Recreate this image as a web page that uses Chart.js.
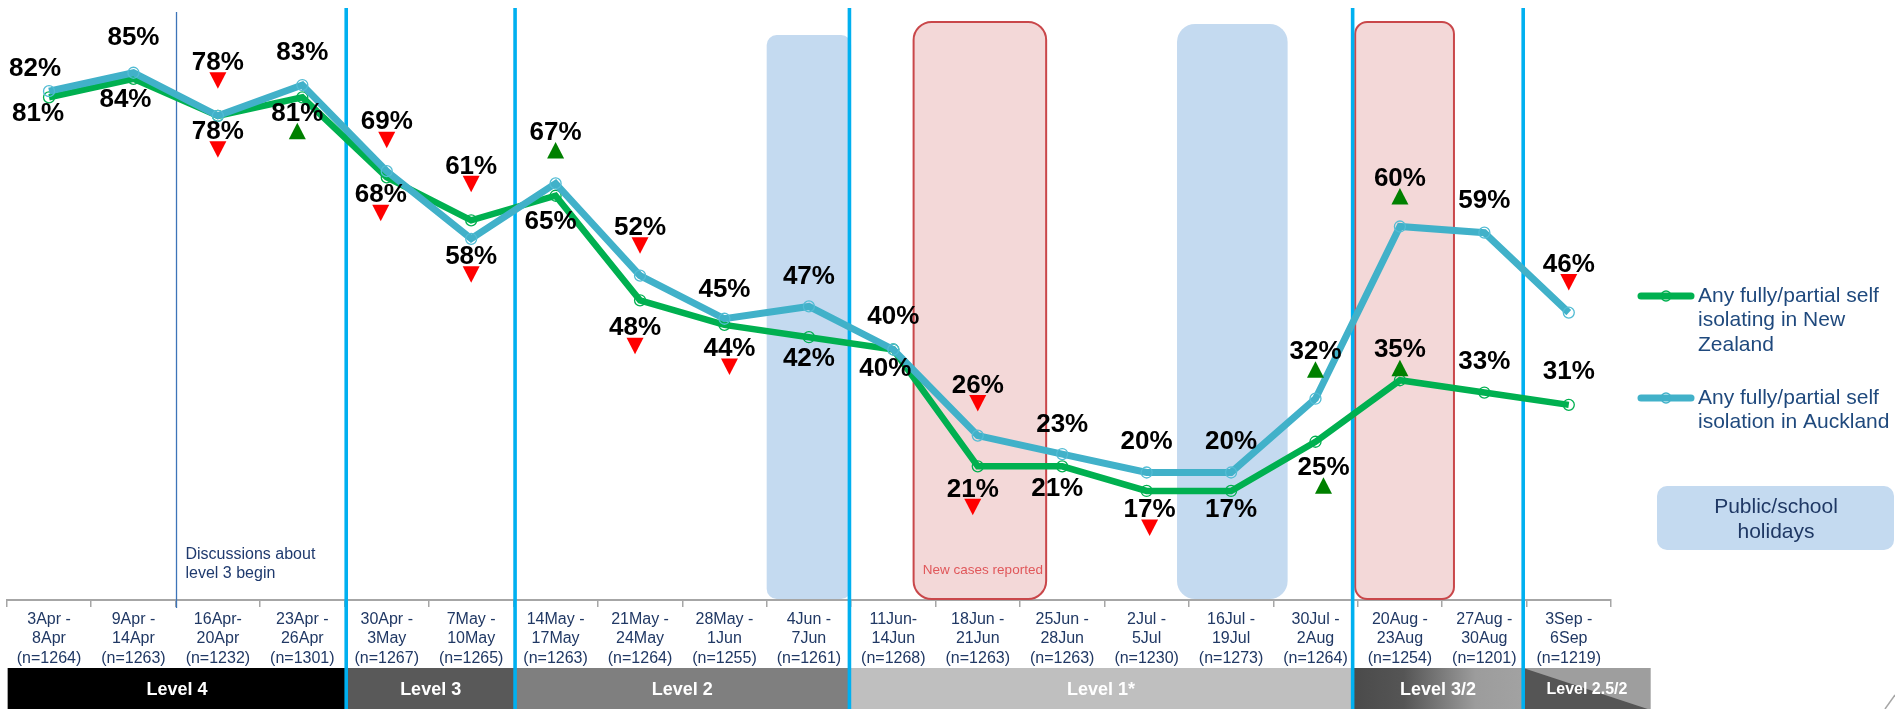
<!DOCTYPE html>
<html>
<head>
<meta charset="utf-8">
<title>Self isolation tracking</title>
<script src="https://cdn.jsdelivr.net/npm/chart.js@4.4.0/dist/chart.umd.min.js"></script>
<style>
  html, body { margin: 0; padding: 0; background: #ffffff; }
  canvas { display: block; }
</style>
</head>
<body>
<canvas id="chart" width="1895" height="709"></canvas>
<script>
// Survey waves (date range and sample size)
const categories = [
  ['3Apr -', '8Apr', '(n=1264)'],
  ['9Apr -', '14Apr', '(n=1263)'],
  ['16Apr-', '20Apr', '(n=1232)'],
  ['23Apr -', '26Apr', '(n=1301)'],
  ['30Apr -', '3May', '(n=1267)'],
  ['7May -', '10May', '(n=1265)'],
  ['14May -', '17May', '(n=1263)'],
  ['21May -', '24May', '(n=1264)'],
  ['28May -', '1Jun', '(n=1255)'],
  ['4Jun -', '7Jun', '(n=1261)'],
  ['11Jun-', '14Jun', '(n=1268)'],
  ['18Jun -', '21Jun', '(n=1263)'],
  ['25Jun -', '28Jun', '(n=1263)'],
  ['2Jul -', '5Jul', '(n=1230)'],
  ['16Jul -', '19Jul', '(n=1273)'],
  ['30Jul -', '2Aug', '(n=1264)'],
  ['20Aug -', '23Aug', '(n=1254)'],
  ['27Aug -', '30Aug', '(n=1201)'],
  ['3Sep -', '6Sep', '(n=1219)']
];

// Percentage self isolating (fully or partially)
const nzIsolating  = [81, 84, 78, 81, 68, 61, 65, 48, 44, 42, 40, 21, 21, 17, 17, 25, 35, 33, 31];
const aklIsolating = [82, 85, 78, 83, 69, 58, 67, 52, 45, 47, 40, 26, 23, 20, 20, 32, 60, 59, 46];

// Significant change vs previous wave
const nzChange  = [null, null, 'down', 'up', 'down', 'down', null, 'down', 'down', null, null, 'down', null, 'down', null, 'up', 'up', null, null];
const aklChange = [null, null, 'down', null, 'down', 'down', 'up', 'down', null, null, null, 'down', null, null, null, 'up', 'up', null, 'down'];

const seriesNames = {
  nz:  ['Any fully/partial self', 'isolating in New', 'Zealand'],
  akl: ['Any fully/partial self', 'isolation in Auckland']
};

// Alert level phases (label, start/end in wave units)
const alertLevels = [
  { label: 'Level 4',     from: 0.01,  to: 4.02 },
  { label: 'Level 3',     from: 4.02,  to: 6.02 },
  { label: 'Level 2',     from: 6.02,  to: 9.98 },
  { label: 'Level 1*',    from: 9.98,  to: 15.94 },
  { label: 'Level 3/2',   from: 15.94, to: 17.96 },
  { label: 'Level 2.5/2', from: 17.96, to: 19.47 }
];
const levelBreaks = [4.02, 6.02, 9.98, 15.94, 17.96];

// ---- layout (pixel offsets of value labels from their points) ----
const aklLabelOffset = [[-14,-22],[0,-35],[0,-53],[0,-32],[0,-49],[0,18],[0,-51],[0,-48],[0,-29],[0,-30],
                        [0,-33],[0,-50],[0,-29],[0,-31],[0,-31],[0,-47],[0,-48],[0,-32],[0,-48]];
const nzLabelOffset  = [[-11,16],[-8,21],[0,16],[-5,16],[-6,18],[0,-54],[-5,26],[-5,28],[5,24],[0,22],
                        [-8,19],[-5,23],[-5,22],[3,19],[0,19],[8,26],[0,-30],[0,-31],[0,-33]];

// Shaded periods (in wave units)
const periods = [
  { from: 9.00,  to: 10.00, top: 35, kind: 'holiday', r: 10 },
  { from: 10.74, to: 12.31, top: 22, kind: 'cases',   r: 18, note: 'New cases reported' },
  { from: 13.86, to: 15.17, top: 24, kind: 'holiday', r: 18 },
  { from: 15.97, to: 17.14, top: 22, kind: 'cases',   r: 12 }
];

const GREEN = '#00B050';
const TEAL = '#41B1C9';
const FONT = '"Liberation Sans", Arial, Helvetica, sans-serif';

function roundRect(ctx, x, y, w, h, r) {
  ctx.beginPath();
  ctx.moveTo(x + r, y);
  ctx.lineTo(x + w - r, y);
  ctx.arcTo(x + w, y, x + w, y + r, r);
  ctx.lineTo(x + w, y + h - r);
  ctx.arcTo(x + w, y + h, x + w - r, y + h, r);
  ctx.lineTo(x + r, y + h);
  ctx.arcTo(x, y + h, x, y + h - r, r);
  ctx.lineTo(x, y + r);
  ctx.arcTo(x, y, x + r, y, r);
  ctx.closePath();
}

function unitToPx(xScale, u) {
  const step = xScale.getPixelForValue(1) - xScale.getPixelForValue(0);
  return xScale.getPixelForValue(0) + (u - 0.5) * step;
}

function triangle(ctx, cx, top, dir) {
  const w = 17, h = 16.5;
  ctx.beginPath();
  if (dir === 'down') {
    ctx.moveTo(cx - w / 2, top);
    ctx.lineTo(cx + w / 2, top);
    ctx.lineTo(cx, top + h);
  } else {
    ctx.moveTo(cx, top);
    ctx.lineTo(cx + w / 2, top + h);
    ctx.lineTo(cx - w / 2, top + h);
  }
  ctx.closePath();
  ctx.fillStyle = dir === 'down' ? '#FF0000' : '#008000';
  ctx.fill();
}

const backdrop = {
  id: 'backdrop',
  beforeDatasetsDraw(chart) {
    const { ctx, scales: { x } } = chart;
    const base = chart.chartArea.bottom - 1;
    ctx.save();

    // shaded periods
    periods.forEach(p => {
      const x0 = unitToPx(x, p.from), x1 = unitToPx(x, p.to);
      roundRect(ctx, x0, p.top, x1 - x0, base - p.top, p.r);
      if (p.kind === 'holiday') {
        ctx.fillStyle = '#C4DAF0';
        ctx.fill();
      } else {
        ctx.fillStyle = '#F3D8D8';
        ctx.fill();
        ctx.lineWidth = 2;
        ctx.strokeStyle = '#C9474A';
        ctx.stroke();
      }
      if (p.note) {
        ctx.fillStyle = '#E0575A';
        ctx.font = '13.5px ' + FONT;
        ctx.textAlign = 'center';
        ctx.textBaseline = 'middle';
        ctx.fillText(p.note, (x0 + x1) / 2 + 3, 570);
      }
    });

    // alert level bar
    const barTop = 668, barBottom = 709;
    alertLevels.forEach((lv, i) => {
      const x0 = unitToPx(x, lv.from), x1 = unitToPx(x, lv.to);
      if (i === 0) ctx.fillStyle = '#000000';
      else if (i === 1) ctx.fillStyle = '#595959';
      else if (i === 2) ctx.fillStyle = '#7F7F7F';
      else if (i === 3) ctx.fillStyle = '#BFBFBF';
      else if (i === 4) {
        const g = ctx.createLinearGradient(x0, 0, x1, 0);
        g.addColorStop(0, '#4A4A4A');
        g.addColorStop(0.3, '#555555');
        g.addColorStop(0.72, '#9C9C9C');
        g.addColorStop(1, '#A2A2A2');
        ctx.fillStyle = g;
      }
      if (i < 5) {
        ctx.fillRect(x0, barTop, x1 - x0, barBottom - barTop);
      } else {
        ctx.fillStyle = '#9E9E9E';
        ctx.fillRect(x0, barTop, x1 - x0, barBottom - barTop);
        ctx.beginPath();
        ctx.moveTo(x0, barTop);
        ctx.lineTo(x1 - 3, barBottom);
        ctx.lineTo(x0, barBottom);
        ctx.closePath();
        ctx.fillStyle = '#555555';
        ctx.fill();
      }
      ctx.fillStyle = '#FFFFFF';
      ctx.font = 'bold ' + (i === 5 ? 16 : 18) + 'px ' + FONT;
      ctx.textAlign = 'center';
      ctx.textBaseline = 'middle';
      ctx.fillText(lv.label, (x0 + x1) / 2, 690);
    });

    // discussions marker
    const dx = unitToPx(x, 2.01);
    ctx.strokeStyle = '#3D74B8';
    ctx.lineWidth = 1.3;
    ctx.beginPath();
    ctx.moveTo(dx, 12);
    ctx.lineTo(dx, 608);
    ctx.stroke();
    ctx.fillStyle = '#1F3A6E';
    ctx.font = '16px ' + FONT;
    ctx.textAlign = 'left';
    ctx.textBaseline = 'middle';
    ctx.fillText('Discussions about', dx + 9, 555);
    ctx.fillText('level 3 begin', dx + 9, 574);

    // alert level changes
    ctx.strokeStyle = '#00B0F0';
    ctx.lineWidth = 3.6;
    levelBreaks.forEach(u => {
      const bx = unitToPx(x, u);
      ctx.beginPath();
      ctx.moveTo(bx, 8);
      ctx.lineTo(bx, 709);
      ctx.stroke();
    });
    ctx.restore();
  },

  afterDatasetsDraw(chart) {
    const { ctx } = chart;
    ctx.save();
    const sets = [
      { meta: chart.getDatasetMeta(0), values: nzIsolating, offsets: nzLabelOffset, marks: nzChange },
      { meta: chart.getDatasetMeta(1), values: aklIsolating, offsets: aklLabelOffset, marks: aklChange }
    ];
    ctx.font = 'bold 26px ' + FONT;
    ctx.textAlign = 'center';
    ctx.textBaseline = 'middle';
    sets.forEach(s => {
      s.meta.data.forEach((pt, i) => {
        const lx = pt.x + s.offsets[i][0];
        const ly = pt.y + s.offsets[i][1];
        ctx.fillStyle = '#000000';
        ctx.fillText(s.values[i] + '%', lx, ly);
        if (s.marks[i]) triangle(ctx, lx, ly + 9.5, s.marks[i]);
      });
    });
    ctx.restore();
  },

  afterDraw(chart) {
    const { ctx } = chart;
    ctx.save();
    // series key
    const entries = [
      { color: GREEN, lines: seriesNames.nz, y: 296 },
      { color: TEAL, lines: seriesNames.akl, y: 398 }
    ];
    entries.forEach(e => {
      ctx.strokeStyle = e.color;
      ctx.lineWidth = 7;
      ctx.lineCap = 'round';
      ctx.beginPath();
      ctx.moveTo(1641, e.y);
      ctx.lineTo(1691, e.y);
      ctx.stroke();
      ctx.lineCap = 'butt';
      ctx.lineWidth = 1.3;
      ctx.beginPath();
      ctx.arc(1666, e.y, 5, 0, Math.PI * 2);
      ctx.stroke();
      ctx.fillStyle = '#1F497D';
      ctx.font = '21px ' + FONT;
      ctx.textAlign = 'left';
      ctx.textBaseline = 'middle';
      e.lines.forEach((t, k) => ctx.fillText(t, 1698, e.y + k * 24.5));
    });

    // holiday key
    roundRect(ctx, 1657, 486, 237, 64, 10);
    ctx.fillStyle = '#C4DAF0';
    ctx.fill();
    ctx.fillStyle = '#1F3864';
    ctx.font = '21px ' + FONT;
    ctx.textAlign = 'center';
    ctx.fillText('Public/school', 1776, 507);
    ctx.fillText('holidays', 1776, 532);

    // corner accent
    ctx.strokeStyle = '#A6A6A6';
    ctx.lineWidth = 1.5;
    ctx.beginPath();
    ctx.moveTo(1895, 695);
    ctx.lineTo(1885, 709);
    ctx.stroke();
    ctx.restore();
  }
};

new Chart(document.getElementById('chart'), {
  type: 'line',
  data: {
    labels: categories,
    datasets: [
      {
        label: seriesNames.nz.join(' '),
        data: nzIsolating,
        borderColor: GREEN,
        borderWidth: 6.5,
        pointRadius: 5.5,
        pointBorderWidth: 1.3,
        pointBorderColor: GREEN,
        pointBackgroundColor: 'rgba(0,0,0,0)',
        tension: 0,
        order: 1
      },
      {
        label: seriesNames.akl.join(' '),
        data: aklIsolating,
        borderColor: TEAL,
        borderWidth: 7,
        pointRadius: 5.5,
        pointBorderWidth: 1.3,
        pointBorderColor: '#52BCD4',
        pointBackgroundColor: 'rgba(0,0,0,0)',
        tension: 0,
        order: 0
      }
    ]
  },
  options: {
    responsive: false,
    animation: false,
    devicePixelRatio: 1,
    layout: { padding: { left: 6, right: 284, top: 10, bottom: 42 } },
    plugins: {
      legend: { display: false },
      tooltip: { enabled: false }
    },
    scales: {
      x: {
        type: 'category',
        offset: true,
        afterFit(scale) { scale.height = 67; },
        border: { display: true, color: '#A6A6A6', width: 2 },
        grid: {
          display: true,
          offset: true,
          drawOnChartArea: false,
          drawTicks: true,
          tickLength: 7,
          color: '#A6A6A6',
          lineWidth: 1.5
        },
        ticks: {
          autoSkip: false,
          maxRotation: 0,
          minRotation: 0,
          padding: 2.5,
          color: '#203864',
          font: { family: FONT, size: 16, lineHeight: 1.22 }
        }
      },
      y: {
        display: false,
        min: -0.73,
        max: 95.2
      }
    }
  },
  plugins: [backdrop]
});
</script>
</body>
</html>
